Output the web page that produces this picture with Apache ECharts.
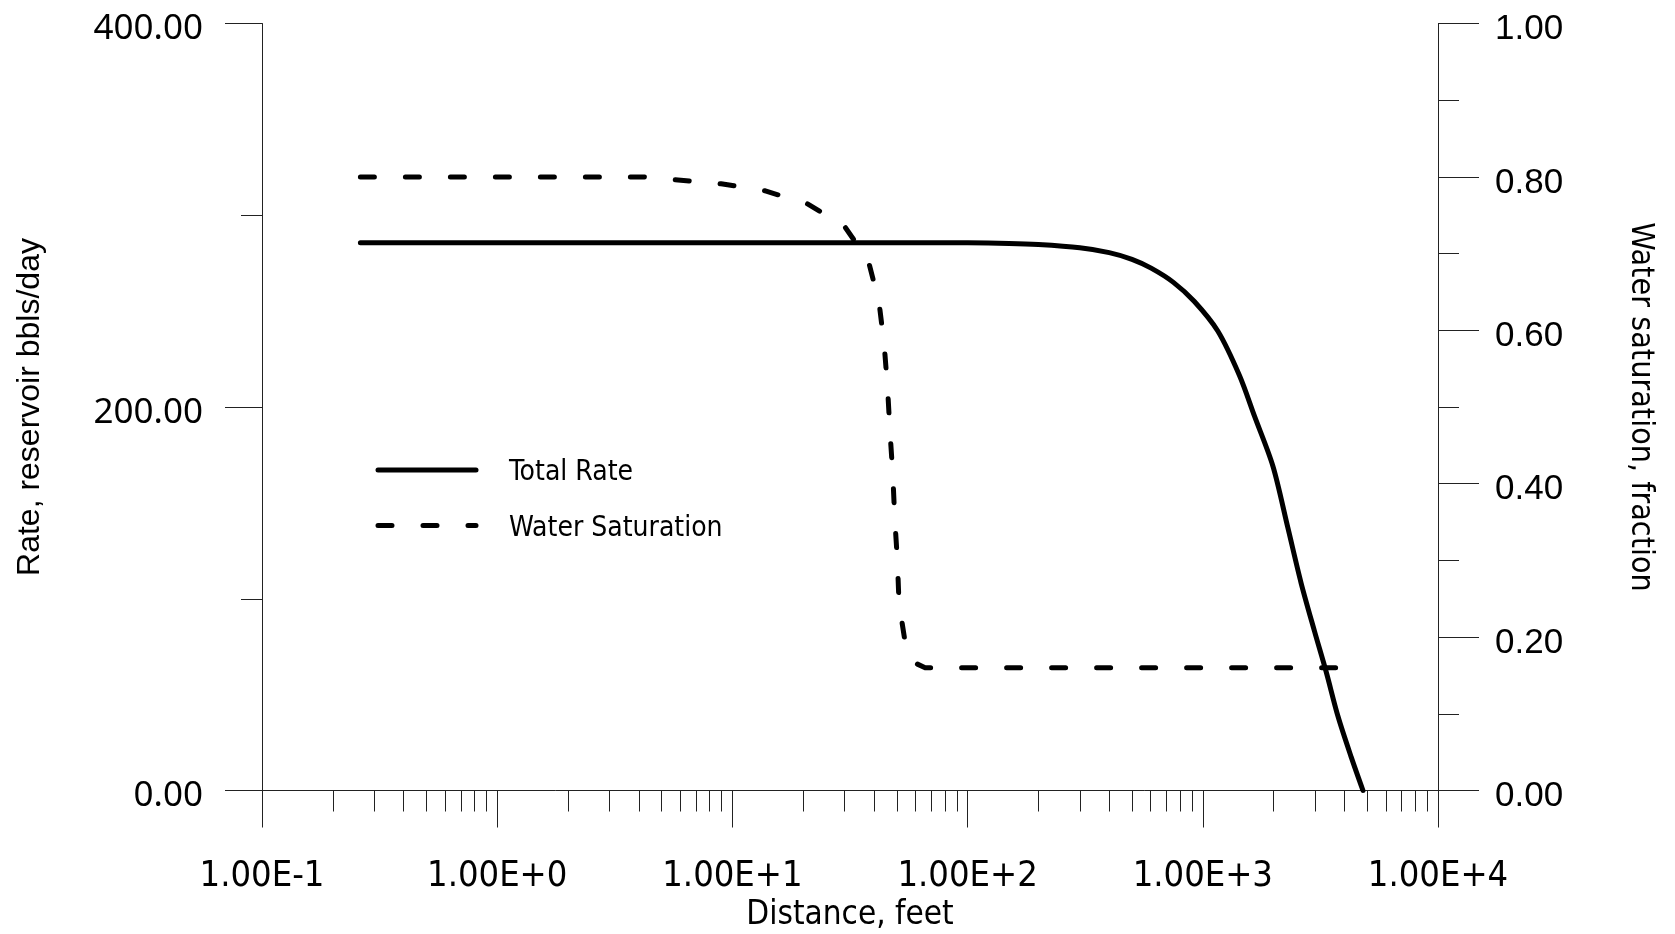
<!DOCTYPE html>
<html>
<head>
<meta charset="utf-8">
<title>Total Rate and Water Saturation vs Distance</title>
<script src="https://cdn.jsdelivr.net/npm/echarts@6/dist/echarts.min.js"></script>
<style>
  html, body { margin: 0; padding: 0; background: #fff; }
  #chart { width: 1675px; height: 934px; }
</style>
</head>
<body>
<div id="chart"></div>
<script>
// Total rate (reservoir bbls/day) against distance (feet)
const rateDistance = [0.262, 1, 10, 50, 100, 150, 200, 300, 400, 500, 603, 750, 921, 1158, 1432, 1659, 1987, 2298, 2618, 2984, 3348, 3756, 4277, 4797];
const totalRate    = [285.7, 285.7, 285.7, 285.7, 285.6, 285.3, 284.7, 283.0, 280.5, 277.0, 272.4, 265.0, 255.0, 239.6, 216.4, 195.2, 169.1, 137.2, 108.2, 83.1, 61.8, 38.7, 17.4, 0];

// Water saturation (fraction) against distance (feet)
const swDistance      = [0.262, 1, 4.2, 5.87, 8.95, 13.7, 20.8, 29.9, 37.8, 42.0, 44.2, 45.7, 46.8, 48.1, 49.0, 50.3, 51.1, 54.6, 60, 66, 3860];
const waterSaturation = [0.80, 0.80, 0.80, 0.796, 0.791, 0.782, 0.765, 0.736, 0.691, 0.637, 0.581, 0.524, 0.467, 0.411, 0.355, 0.300, 0.244, 0.188, 0.166, 0.160, 0.160];

// Axis ticks
const decadeTicks = [0.1, 1, 10, 100, 1000, 10000];
const minorDistanceTicks = [
  0.2, 0.3, 0.4, 0.5, 0.6, 0.7, 0.8, 0.9,
  2, 3, 4, 5, 6, 7, 8, 9,
  20, 30, 40, 50, 60, 70, 80, 90,
  200, 300, 400, 500, 600, 700, 800, 900,
  2000, 3000, 4000, 5000, 6000, 7000, 8000, 9000
];

const NARROW = "'DejaVu Sans Condensed', sans-serif";
const REGULAR = "'Liberation Sans', Arial, sans-serif";
const AXIS_COLOR = '#222';

const pairs = (xs, ys) => xs.map((x, i) => [x, ys[i]]);
const sciLabel = v => {
  const e = Math.round(Math.log10(v));
  return '1.00E' + (e >= 0 ? '+' : '') + e;
};

const gridRect = { left: 262, right: 237, top: 23.5, bottom: 143.5, outerBoundsMode: 'none' };

const chart = echarts.init(document.getElementById('chart'), null, { renderer: 'canvas' });

chart.setOption({
  animation: false,
  backgroundColor: '#fff',
  grid: [
    Object.assign({}, gridRect),
    Object.assign({}, gridRect)
  ],
  xAxis: [
    {
      type: 'log', logBase: 10, min: 0.1, max: 10000, gridIndex: 0, position: 'bottom',
      axisLine: { show: true, onZero: false, lineStyle: { color: AXIS_COLOR, width: 1 } },
      axisTick: { show: true, length: 37, customValues: decadeTicks, lineStyle: { color: AXIS_COLOR, width: 1 } },
      minorTick: { show: false },
      splitLine: { show: false },
      axisLabel: {
        customValues: decadeTicks, formatter: sciLabel, margin: 68,
        color: '#000', fontSize: 36, fontFamily: NARROW
      },
      name: 'Distance, feet', nameLocation: 'middle', nameGap: 99,
      nameTextStyle: { color: '#000', fontSize: 33, fontFamily: NARROW }
    },
    {
      // minor decade ticks (2..9) drawn on an overlaid axis
      type: 'log', logBase: 10, min: 0.1, max: 10000, gridIndex: 1, position: 'bottom',
      axisLine: { show: false },
      axisTick: { show: true, length: 21, customValues: minorDistanceTicks, lineStyle: { color: AXIS_COLOR, width: 1 } },
      axisLabel: { show: false },
      splitLine: { show: false }
    }
  ],
  yAxis: [
    {
      type: 'value', min: 0, max: 400, interval: 200, gridIndex: 0, position: 'left',
      axisLine: { show: true, onZero: false, lineStyle: { color: AXIS_COLOR, width: 1 } },
      axisTick: { show: true, length: 37, lineStyle: { color: AXIS_COLOR, width: 1 } },
      minorTick: { show: true, splitNumber: 2, length: 21, lineStyle: { color: AXIS_COLOR, width: 1 } },
      splitLine: { show: false },
      axisLabel: {
        formatter: v => v.toFixed(2), margin: 59,
        verticalAlign: 'top', lineHeight: 12,
        color: '#000', fontSize: 35, fontFamily: "'Noto Sans', sans-serif"
      },
      name: 'Rate, reservoir bbls/day', nameLocation: 'middle', nameGap: 216, nameRotate: 90,
      nameTextStyle: { color: '#000', fontSize: 32, fontFamily: REGULAR }
    },
    {
      type: 'value', min: 0, max: 1, interval: 0.2, gridIndex: 0, position: 'right',
      axisLine: { show: true, onZero: false, lineStyle: { color: AXIS_COLOR, width: 1 } },
      axisTick: { show: true, length: 41, lineStyle: { color: AXIS_COLOR, width: 1 } },
      minorTick: { show: true, splitNumber: 2, length: 21, lineStyle: { color: AXIS_COLOR, width: 1 } },
      splitLine: { show: false },
      axisLabel: {
        formatter: v => v.toFixed(2), margin: 57,
        verticalAlign: 'top', lineHeight: 12,
        color: '#000', fontSize: 35, fontFamily: REGULAR
      },
      name: 'Water saturation, fraction', nameLocation: 'middle', nameGap: 186, nameRotate: -90,
      nameTextStyle: { color: '#000', fontSize: 32, fontFamily: NARROW }
    },
    {
      type: 'value', min: 0, max: 1, gridIndex: 1, show: false
    }
  ],
  series: [
    {
      name: 'Total Rate', type: 'line', xAxisIndex: 0, yAxisIndex: 0,
      data: pairs(rateDistance, totalRate),
      showSymbol: false, symbol: 'none', clip: false,
      smooth: 0.3,
      lineStyle: { color: '#000', width: 5, cap: 'round', join: 'round' }
    },
    {
      name: 'Water Saturation', type: 'line', xAxisIndex: 0, yAxisIndex: 1,
      data: pairs(swDistance, waterSaturation),
      showSymbol: false, symbol: 'none', clip: false,
      smooth: false,
      lineStyle: { color: '#000', width: 5, type: [14, 31], cap: 'round', join: 'round' }
    }
  ],
  graphic: [
    // legend
    { type: 'line', shape: { x1: 378, y1: 470, x2: 476, y2: 470 },
      style: { stroke: '#000', lineWidth: 5, lineCap: 'round' } },
    { type: 'text', x: 509, y: 473,
      style: { text: 'Total Rate', fill: '#000', font: "28px " + NARROW, verticalAlign: 'middle' } },
    { type: 'line', shape: { x1: 378, y1: 525.5, x2: 476, y2: 525.5 },
      style: { stroke: '#000', lineWidth: 5, lineCap: 'round', lineDash: [14, 31] } },
    { type: 'text', x: 509, y: 528.5,
      style: { text: 'Water Saturation', fill: '#000', font: "28px " + NARROW, verticalAlign: 'middle' } }
  ]
});
</script>
</body>
</html>
